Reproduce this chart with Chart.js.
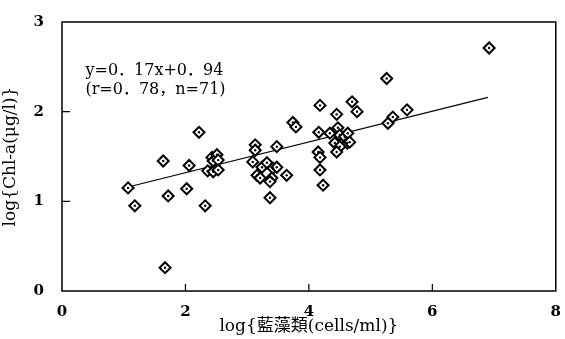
<!DOCTYPE html>
<html>
<head>
<meta charset="utf-8">
<script src="https://cdn.jsdelivr.net/npm/chart.js@4"></script>
<style>
  html, body { margin: 0; padding: 0; background: #fff; }
  #wrap { width: 565px; height: 339px; }
</style>
</head>
<body>
<div id="wrap"><canvas id="scatterChart" width="565" height="339"></canvas></div>
<script>
// log(blue-green algae cells/ml) vs log(Chl-a)
const xVals = [1.07, 1.18, 1.64, 1.72, 1.67, 2.06, 2.02, 2.22, 2.32, 2.43, 2.51, 2.45, 2.53, 2.36, 2.45, 2.53,
    3.13, 3.13, 3.48, 3.09, 3.24, 3.32, 3.42, 3.48, 3.16, 3.21, 3.40, 3.37, 3.64, 3.37, 3.74, 3.79,
    4.15, 4.18, 4.18, 4.23, 4.18, 4.45, 4.70, 4.78, 4.16, 4.34, 4.47, 4.50, 4.58, 4.63, 4.62, 4.66,
    4.42, 4.50, 4.45, 5.26, 5.36, 5.28, 5.59, 6.92];
const yVals = [1.15, 0.95, 1.45, 1.06, 0.26, 1.40, 1.14, 1.77, 0.95, 1.49, 1.52, 1.45, 1.46, 1.34, 1.33, 1.35,
    1.63, 1.57, 1.61, 1.44, 1.38, 1.43, 1.37, 1.38, 1.29, 1.26, 1.26, 1.22, 1.29, 1.04, 1.88, 1.83,
    1.55, 1.49, 1.35, 1.18, 2.07, 1.97, 2.11, 2.00, 1.77, 1.76, 1.82, 1.74, 1.72, 1.76, 1.65, 1.66,
    1.65, 1.61, 1.55, 2.37, 1.94, 1.87, 2.02, 2.71];
// regression line as drawn
const lineX = [1.07, 6.9];
const lineY = [1.16, 2.16];
const xTicks = [0, 2, 4, 6, 8];
const yTicks = [0, 1, 2, 3];
const eqLines = ['y=0\uFF0E17x+0\uFF0E94', '(r=0\uFF0E78\uFF0Cn=71)'];

const pts = xVals.map((x, i) => ({ x: x, y: yVals[i] }));
const fit = lineX.map((x, i) => ({ x: x, y: lineY[i] }));

const serif = '"DejaVu Serif", "Noto Sans CJK JP", serif';

const framePlugin = {
    id: 'frame',
    afterDraw(chart) {
        const c = chart.ctx, a = chart.chartArea;
        const xs = chart.scales.x, ys = chart.scales.y;
        c.save();
        c.strokeStyle = '#000';
        c.lineWidth = 1.5;
        c.strokeRect(a.left, a.top, a.right - a.left, a.bottom - a.top);
        c.lineWidth = 1.2;
        c.beginPath();
        yTicks.slice(1, -1).forEach(v => {
            const p = ys.getPixelForValue(v);
            c.moveTo(a.left, p); c.lineTo(a.left + 8, p);
        });
        xTicks.slice(1, -1).forEach(v => {
            const p = xs.getPixelForValue(v);
            c.moveTo(p, a.bottom); c.lineTo(p, a.bottom - 7);
        });
        c.stroke();
        // equation text
        c.fillStyle = '#000';
        c.font = '16px ' + serif;
        c.textBaseline = 'middle';
        c.fillText(eqLines[0], xs.getPixelForValue(0.38), ys.getPixelForValue(2.45));
        c.fillText(eqLines[1], xs.getPixelForValue(0.38), ys.getPixelForValue(2.24));
        c.restore();
    }
};

const ctx = document.getElementById('scatterChart').getContext('2d');
new Chart(ctx, {
    type: 'scatter',
    data: {
        datasets: [
            {
                type: 'line',
                data: fit,
                order: 2,
                borderColor: '#000',
                borderWidth: 1.2,
                pointRadius: 0,
                fill: false
            },
            {
                data: pts,
                order: 1,
                pointStyle: 'rectRot',
                pointRadius: 5.5,
                backgroundColor: '#fff',
                borderColor: '#000',
                borderWidth: 2
            },
            {
                data: pts,
                order: 0,
                pointStyle: 'circle',
                pointRadius: 1.2,
                backgroundColor: '#000',
                borderWidth: 0
            }
        ]
    },
    options: {
        responsive: false,
        animation: false,
        layout: { padding: { top: 22, right: 9, left: 0, bottom: 0 } },
        plugins: { legend: { display: false }, tooltip: { enabled: false } },
        scales: {
            x: {
                type: 'linear',
                min: 0,
                max: 8,
                afterBuildTicks: s => { s.ticks = xTicks.map(v => ({ value: v })); },
                afterFit: s => { s.height = 48; },
                grid: { display: false },
                border: { display: false },
                ticks: {
                    color: '#000',
                    padding: 4,
                    maxRotation: 0,
                    font: { family: serif, size: 15, weight: 'bold' }
                },
                title: {
                    display: true,
                    text: 'log{藍藻類(cells/ml)}',
                    color: '#000',
                    padding: { top: 0, bottom: 2 },
                    font: { family: serif, size: 17 }
                }
            },
            y: {
                min: 0,
                max: 3,
                afterBuildTicks: s => { s.ticks = yTicks.map(v => ({ value: v })); },
                afterFit: s => { s.width = 62; },
                grid: { display: false },
                border: { display: false },
                ticks: {
                    color: '#000',
                    padding: 10,
                    font: { family: serif, size: 15, weight: 'bold' }
                },
                title: {
                    display: true,
                    text: 'log{Chl-a(μg/l)}',
                    color: '#000',
                    padding: { top: 0, bottom: 3 },
                    font: { family: serif, size: 17 }
                }
            }
        }
    },
    plugins: [framePlugin]
});
</script>
</body>
</html>
